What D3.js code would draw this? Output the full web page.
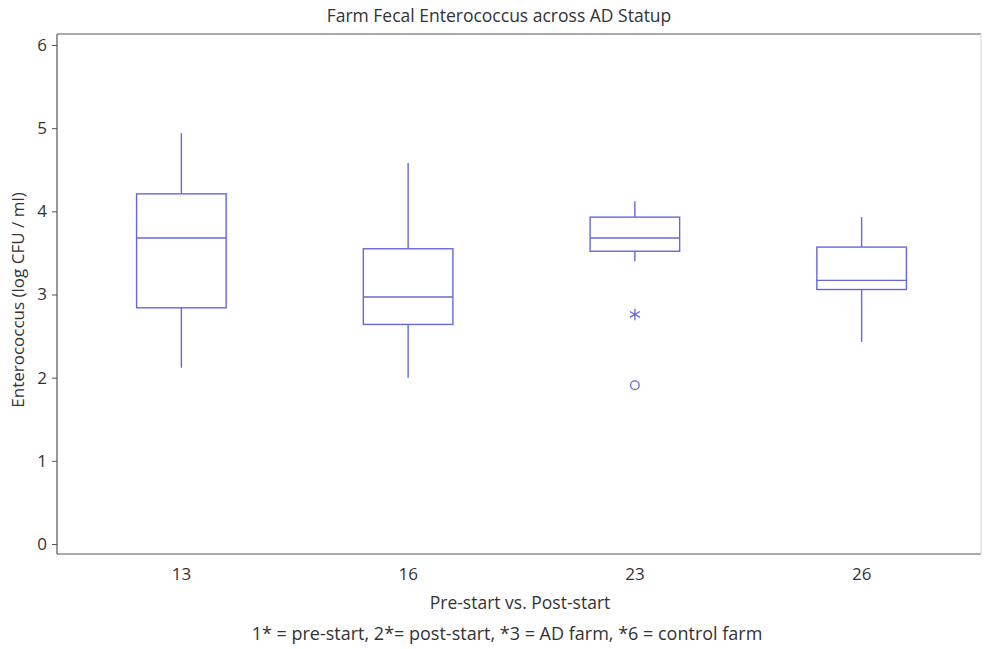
<!DOCTYPE html>
<html>
<head>
<meta charset="utf-8">
<script src="https://cdn.jsdelivr.net/npm/d3@7"></script>
<style>
  html, body { margin: 0; padding: 0; background: #fff; }
  svg { display: block; }
  text { font-family: "Open Sans", "DejaVu Sans", sans-serif; fill: #333; }
</style>
</head>
<body>
<svg id="chart" width="984" height="649"></svg>
<script>
// ---- data ----
const categories = ["13", "16", "23", "26"];
const whiskerLow  = [2.12, 2.00, 3.40, 2.43];
const q1          = [2.84, 2.64, 3.52, 3.06];
const median      = [3.68, 2.97, 3.68, 3.17];
const q3          = [4.21, 3.55, 3.93, 3.57];
const whiskerHigh = [4.94, 4.58, 4.12, 3.93];
// outliers
const outlierCats   = ["23", "23"];
const outlierValues = [2.76, 1.91];
const outlierKinds  = ["extreme", "outlier"]; // asterisk, circle
const yTicks = [0, 1, 2, 3, 4, 5, 6];

const title = "Farm Fecal Enterococcus across AD Statup";
const yLabel = "Enterococcus (log CFU / ml)";
const xLabel = "Pre-start vs. Post-start";
const footnote = "1* = pre-start, 2*= post-start, *3 = AD farm, *6 = control farm";

// ---- layout ----
const svg = d3.select("#chart");
const frame = { left: 57, top: 34, right: 981, bottom: 554 };
const boxColor = "#6767dc";
const frameColor = "#555";

const x = d3.scaleBand().domain(categories).range([68, 975]).padding(0);
const y = d3.scaleLinear().domain([0, 6]).range([544, 45]);
const boxW = x.bandwidth() * 0.395;

// frame
svg.append("line").attr("x1", frame.left).attr("x2", frame.right).attr("y1", frame.top).attr("y2", frame.top)
  .attr("stroke", frameColor).attr("stroke-width", 1.2);
svg.append("line").attr("x1", frame.left).attr("x2", frame.right).attr("y1", frame.bottom).attr("y2", frame.bottom)
  .attr("stroke", frameColor).attr("stroke-width", 1.2);
svg.append("line").attr("x1", frame.left).attr("x2", frame.left).attr("y1", frame.top).attr("y2", frame.bottom)
  .attr("stroke", frameColor).attr("stroke-width", 1.2);
svg.append("line").attr("x1", frame.right).attr("x2", frame.right).attr("y1", frame.top).attr("y2", frame.bottom)
  .attr("stroke", "#ddd").attr("stroke-width", 1.2);

// y axis
const yAxis = d3.axisLeft(y).tickValues(yTicks).tickSize(5).tickPadding(5).tickFormat(d3.format("d"));
const gy = svg.append("g").attr("transform", `translate(${frame.left},0)`).call(yAxis);
gy.select(".domain").remove();
gy.selectAll(".tick line").attr("stroke", frameColor);
gy.selectAll(".tick text").style("font-size", "17px").attr("fill", "#333");

// x axis labels
const xAxis = d3.axisBottom(x).tickSize(0).tickPadding(14);
const gx = svg.append("g").attr("transform", `translate(0,${frame.bottom})`).call(xAxis);
gx.select(".domain").remove();
gx.selectAll(".tick text").style("font-size", "17px").attr("fill", "#333");

// boxes
const data = categories.map((c, i) => ({
  c, lo: whiskerLow[i], q1: q1[i], med: median[i], q3: q3[i], hi: whiskerHigh[i]
}));
const g = svg.append("g").attr("stroke", boxColor).attr("stroke-width", 1.4).attr("fill", "none");
data.forEach(d => {
  const cx = x(d.c) + x.bandwidth() / 2;
  g.append("line").attr("x1", cx).attr("x2", cx).attr("y1", y(d.hi)).attr("y2", y(d.q3));
  g.append("line").attr("x1", cx).attr("x2", cx).attr("y1", y(d.q1)).attr("y2", y(d.lo));
  g.append("rect").attr("x", cx - boxW / 2).attr("y", y(d.q3))
    .attr("width", boxW).attr("height", y(d.q1) - y(d.q3));
  g.append("line").attr("x1", cx - boxW / 2).attr("x2", cx + boxW / 2)
    .attr("y1", y(d.med)).attr("y2", y(d.med));
});

// outliers
outlierValues.forEach((v, i) => {
  const cx = x(outlierCats[i]) + x.bandwidth() / 2;
  const cy = y(v);
  if (outlierKinds[i] === "outlier") {
    svg.append("circle").attr("cx", cx).attr("cy", cy).attr("r", 4.3)
      .attr("fill", "none").attr("stroke", boxColor).attr("stroke-width", 1.3);
  } else {
    svg.append("path").attr("transform", `translate(${cx},${cy})`)
      .attr("d", d3.symbol(d3.symbolAsterisk, 95)())
      .attr("fill", "none").attr("stroke", boxColor).attr("stroke-width", 1.3);
  }
});

// texts
svg.append("text").attr("x", 499).attr("y", 22).attr("text-anchor", "middle")
  .style("font-size", "17.5px").text(title);
svg.append("text").attr("transform", "translate(24,300) rotate(-90)").attr("text-anchor", "middle")
  .style("font-size", "17px").text(yLabel);
svg.append("text").attr("x", 520).attr("y", 609).attr("text-anchor", "middle")
  .style("font-size", "17.5px").text(xLabel);
svg.append("text").attr("x", 507).attr("y", 640).attr("text-anchor", "middle")
  .style("font-size", "18px").text(footnote);
</script>
</body>
</html>
